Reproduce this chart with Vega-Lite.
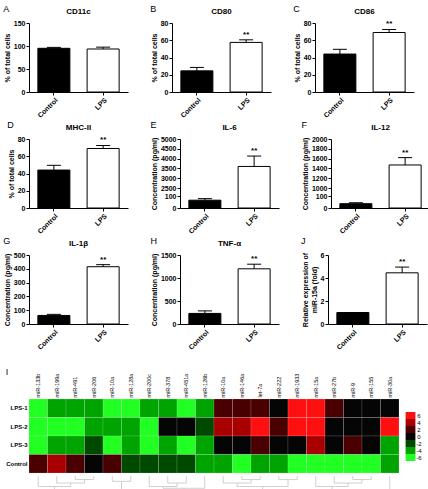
{
  "$schema": "https://vega.github.io/schema/vega-lite/v6.json",
  "padding": {"left": 3, "top": 5, "right": 3, "bottom": 3},
  "background": "white",
  "datasets": {
    "bars": [
      {"panel": "A", "group": "Control", "mean": 95, "err": 97, "star": false},
      {"panel": "A", "group": "LPS", "mean": 93.5, "err": 97.5, "star": false},
      {"panel": "B", "group": "Control", "mean": 24.5, "err": 28.5, "star": false},
      {"panel": "B", "group": "LPS", "mean": 57.5, "err": 60.5, "star": true},
      {"panel": "C", "group": "Control", "mean": 44, "err": 49.5, "star": false},
      {"panel": "C", "group": "LPS", "mean": 69, "err": 72.5, "star": true},
      {"panel": "D", "group": "Control", "mean": 44, "err": 49.5, "star": false},
      {"panel": "D", "group": "LPS", "mean": 69, "err": 72.5, "star": true},
      {"panel": "E", "group": "Control", "mean": 65, "err": 78, "star": false},
      {"panel": "E", "group": "LPS", "mean": 3600, "err": 4130, "star": true},
      {"panel": "F", "group": "Control", "mean": 36, "err": 44, "star": false},
      {"panel": "F", "group": "LPS", "mean": 1470, "err": 1620, "star": true},
      {"panel": "G", "group": "Control", "mean": 62, "err": 70, "star": false},
      {"panel": "G", "group": "LPS", "mean": 415, "err": 430, "star": true},
      {"panel": "H", "group": "Control", "mean": 230, "err": 285, "star": false},
      {"panel": "H", "group": "LPS", "mean": 1200, "err": 1300, "star": true},
      {"panel": "J", "group": "Control", "mean": 1, "err": 1, "star": false},
      {"panel": "J", "group": "LPS", "mean": 4.45, "err": 4.95, "star": true}
    ],
    "heat": [
      {"row": "LPS-1", "col": 1, "v": -6}, {"row": "LPS-1", "col": 2, "v": -4}, {"row": "LPS-1", "col": 3, "v": -4}, {"row": "LPS-1", "col": 4, "v": -4}, {"row": "LPS-1", "col": 5, "v": -6},
      {"row": "LPS-1", "col": 6, "v": -6}, {"row": "LPS-1", "col": 7, "v": -4}, {"row": "LPS-1", "col": 8, "v": -4}, {"row": "LPS-1", "col": 9, "v": -6}, {"row": "LPS-1", "col": 10, "v": -4},
      {"row": "LPS-1", "col": 11, "v": 2}, {"row": "LPS-1", "col": 12, "v": 2}, {"row": "LPS-1", "col": 13, "v": 2}, {"row": "LPS-1", "col": 14, "v": 0}, {"row": "LPS-1", "col": 15, "v": 6},
      {"row": "LPS-1", "col": 16, "v": 6}, {"row": "LPS-1", "col": 17, "v": 2}, {"row": "LPS-1", "col": 18, "v": 0}, {"row": "LPS-1", "col": 19, "v": 0}, {"row": "LPS-1", "col": 20, "v": 0},
      {"row": "LPS-2", "col": 1, "v": -6}, {"row": "LPS-2", "col": 2, "v": -6}, {"row": "LPS-2", "col": 3, "v": -6}, {"row": "LPS-2", "col": 4, "v": -4}, {"row": "LPS-2", "col": 5, "v": -4},
      {"row": "LPS-2", "col": 6, "v": -4}, {"row": "LPS-2", "col": 7, "v": -6}, {"row": "LPS-2", "col": 8, "v": 0}, {"row": "LPS-2", "col": 9, "v": 0}, {"row": "LPS-2", "col": 10, "v": -2},
      {"row": "LPS-2", "col": 11, "v": 4}, {"row": "LPS-2", "col": 12, "v": 4}, {"row": "LPS-2", "col": 13, "v": 6}, {"row": "LPS-2", "col": 14, "v": 2}, {"row": "LPS-2", "col": 15, "v": 6},
      {"row": "LPS-2", "col": 16, "v": 6}, {"row": "LPS-2", "col": 17, "v": 0}, {"row": "LPS-2", "col": 18, "v": 0}, {"row": "LPS-2", "col": 19, "v": 0}, {"row": "LPS-2", "col": 20, "v": 6},
      {"row": "LPS-3", "col": 1, "v": -6}, {"row": "LPS-3", "col": 2, "v": -4}, {"row": "LPS-3", "col": 3, "v": -4}, {"row": "LPS-3", "col": 4, "v": -2}, {"row": "LPS-3", "col": 5, "v": -6},
      {"row": "LPS-3", "col": 6, "v": -4}, {"row": "LPS-3", "col": 7, "v": -6}, {"row": "LPS-3", "col": 8, "v": -4}, {"row": "LPS-3", "col": 9, "v": -6}, {"row": "LPS-3", "col": 10, "v": -4},
      {"row": "LPS-3", "col": 11, "v": 0}, {"row": "LPS-3", "col": 12, "v": 0}, {"row": "LPS-3", "col": 13, "v": 2}, {"row": "LPS-3", "col": 14, "v": 0}, {"row": "LPS-3", "col": 15, "v": 0},
      {"row": "LPS-3", "col": 16, "v": 4}, {"row": "LPS-3", "col": 17, "v": 0}, {"row": "LPS-3", "col": 18, "v": 2}, {"row": "LPS-3", "col": 19, "v": 0}, {"row": "LPS-3", "col": 20, "v": -4},
      {"row": "Control", "col": 1, "v": 2}, {"row": "Control", "col": 2, "v": 4}, {"row": "Control", "col": 3, "v": 2}, {"row": "Control", "col": 4, "v": 0}, {"row": "Control", "col": 5, "v": 2},
      {"row": "Control", "col": 6, "v": -2}, {"row": "Control", "col": 7, "v": -2}, {"row": "Control", "col": 8, "v": -2}, {"row": "Control", "col": 9, "v": -2}, {"row": "Control", "col": 10, "v": -4},
      {"row": "Control", "col": 11, "v": -4}, {"row": "Control", "col": 12, "v": -6}, {"row": "Control", "col": 13, "v": -4}, {"row": "Control", "col": 14, "v": -4}, {"row": "Control", "col": 15, "v": -6},
      {"row": "Control", "col": 16, "v": -6}, {"row": "Control", "col": 17, "v": -6}, {"row": "Control", "col": 18, "v": -6}, {"row": "Control", "col": 19, "v": -6}, {"row": "Control", "col": 20, "v": -4}
    ],
    "dendro": [
      {"x": 2.5, "x2": 2.5, "y": 0, "y2": 1}, {"x": 3.5, "x2": 3.5, "y": 0, "y2": 1}, {"x": 2.5, "x2": 3.5, "y": 1, "y2": 1},
      {"x": 1.5, "x2": 1.5, "y": 0, "y2": 2}, {"x": 3.0, "x2": 3.0, "y": 1, "y2": 2}, {"x": 1.5, "x2": 3.0, "y": 2, "y2": 2},
      {"x": 0.5, "x2": 0.5, "y": 0, "y2": 3}, {"x": 2.25, "x2": 2.25, "y": 2, "y2": 3}, {"x": 0.5, "x2": 2.25, "y": 3, "y2": 3},
      {"x": 4.5, "x2": 4.5, "y": 0, "y2": 1.5}, {"x": 5.5, "x2": 5.5, "y": 0, "y2": 1.5}, {"x": 4.5, "x2": 5.5, "y": 1.5, "y2": 1.5},
      {"x": 1.375, "x2": 1.375, "y": 3, "y2": 4}, {"x": 5.0, "x2": 5.0, "y": 1.5, "y2": 4}, {"x": 1.375, "x2": 5.0, "y": 4, "y2": 4},
      {"x": 7.5, "x2": 7.5, "y": 0, "y2": 2}, {"x": 8.5, "x2": 8.5, "y": 0, "y2": 2}, {"x": 7.5, "x2": 8.5, "y": 2, "y2": 2},
      {"x": 6.5, "x2": 6.5, "y": 0, "y2": 3}, {"x": 8.0, "x2": 8.0, "y": 2, "y2": 3}, {"x": 6.5, "x2": 8.0, "y": 3, "y2": 3},
      {"x": 7.25, "x2": 7.25, "y": 3, "y2": 3.5}, {"x": 9.5, "x2": 9.5, "y": 0, "y2": 3.5}, {"x": 7.25, "x2": 9.5, "y": 3.5, "y2": 3.5},
      {"x": 3.19, "x2": 3.19, "y": 4, "y2": 5}, {"x": 8.38, "x2": 8.38, "y": 3.5, "y2": 5}, {"x": 3.19, "x2": 8.38, "y": 5, "y2": 5},
      {"x": 11.5, "x2": 11.5, "y": 0, "y2": 1}, {"x": 12.5, "x2": 12.5, "y": 0, "y2": 1}, {"x": 11.5, "x2": 12.5, "y": 1, "y2": 1},
      {"x": 10.5, "x2": 10.5, "y": 0, "y2": 2}, {"x": 12.0, "x2": 12.0, "y": 1, "y2": 2}, {"x": 10.5, "x2": 12.0, "y": 2, "y2": 2},
      {"x": 13.5, "x2": 13.5, "y": 0, "y2": 1}, {"x": 14.5, "x2": 14.5, "y": 0, "y2": 1}, {"x": 13.5, "x2": 14.5, "y": 1, "y2": 1},
      {"x": 11.25, "x2": 11.25, "y": 2, "y2": 3}, {"x": 14.0, "x2": 14.0, "y": 1, "y2": 3}, {"x": 11.25, "x2": 14.0, "y": 3, "y2": 3},
      {"x": 17.5, "x2": 17.5, "y": 0, "y2": 1}, {"x": 18.5, "x2": 18.5, "y": 0, "y2": 1}, {"x": 17.5, "x2": 18.5, "y": 1, "y2": 1},
      {"x": 16.5, "x2": 16.5, "y": 0, "y2": 2}, {"x": 18.0, "x2": 18.0, "y": 1, "y2": 2}, {"x": 16.5, "x2": 18.0, "y": 2, "y2": 2},
      {"x": 15.5, "x2": 15.5, "y": 0, "y2": 3}, {"x": 17.25, "x2": 17.25, "y": 2, "y2": 3}, {"x": 15.5, "x2": 17.25, "y": 3, "y2": 3},
      {"x": 12.63, "x2": 12.63, "y": 3, "y2": 4}, {"x": 16.38, "x2": 16.38, "y": 3, "y2": 4}, {"x": 12.63, "x2": 16.38, "y": 4, "y2": 4},
      {"x": 14.5, "x2": 14.5, "y": 4, "y2": 5}, {"x": 19.5, "x2": 19.5, "y": 0, "y2": 5}, {"x": 14.5, "x2": 19.5, "y": 5, "y2": 5},
      {"x": 5.78, "x2": 5.78, "y": 5, "y2": 6}, {"x": 17.0, "x2": 17.0, "y": 5, "y2": 6}, {"x": 5.78, "x2": 17.0, "y": 6, "y2": 6}
    ]
  },
  "spacing": 17,
  "vconcat": [
    {
      "spacing": 2,
      "vconcat": [
        {
          "spacing": 22,
          "hconcat": [
            {
              "title": {"text": "A", "anchor": "start", "fontSize": 9, "fontWeight": "normal", "offset": -6},
              "vconcat": [{
                "title": "CD11c", "width": 99, "height": 69,
                "data": {"name": "bars"}, "transform": [{"filter": "datum.panel === 'A'"}],
                "encoding": {"x": {"field": "group", "type": "nominal", "sort": ["Control", "LPS"], "scale": {"paddingInner": 0.35, "paddingOuter": 0.18}, "axis": {"title": null, "labelAngle": -45}}},
                "layer": [
                  {"mark": {"type": "bar", "stroke": "#000", "strokeWidth": 1}, "encoding": {"y": {"field": "mean", "type": "quantitative", "scale": {"domain": [0, 150], "nice": false}, "axis": {"values": [0, 50, 100, 150], "title": "% of total cells"}}, "fill": {"condition": {"test": "datum.group === 'Control'", "value": "#000"}, "value": "#fff"}}},
                  {"mark": {"type": "rule", "color": "#000"}, "encoding": {"y": {"field": "mean", "type": "quantitative", "scale": {"domain": [0, 150], "nice": false}, "axis": {"values": [0, 50, 100, 150], "title": "% of total cells"}}, "y2": {"field": "err"}}},
                  {"mark": {"type": "tick", "orient": "horizontal", "size": 14, "thickness": 1, "color": "#000", "opacity": 1}, "encoding": {"y": {"field": "err", "type": "quantitative", "scale": {"domain": [0, 150], "nice": false}, "axis": {"values": [0, 50, 100, 150], "title": "% of total cells"}}}}
                ]
              }]
            },
            {
              "title": {"text": "B", "anchor": "start", "fontSize": 9, "fontWeight": "normal", "offset": -6},
              "vconcat": [{
                "title": "CD80", "width": 99, "height": 69,
                "data": {"name": "bars"}, "transform": [{"filter": "datum.panel === 'B'"}],
                "encoding": {"x": {"field": "group", "type": "nominal", "sort": ["Control", "LPS"], "scale": {"paddingInner": 0.35, "paddingOuter": 0.18}, "axis": {"title": null, "labelAngle": -45}}},
                "layer": [
                  {"mark": {"type": "bar", "stroke": "#000", "strokeWidth": 1}, "encoding": {"y": {"field": "mean", "type": "quantitative", "scale": {"domain": [0, 80], "nice": false}, "axis": {"values": [0, 20, 40, 60, 80], "title": "% of total cells"}}, "fill": {"condition": {"test": "datum.group === 'Control'", "value": "#000"}, "value": "#fff"}}},
                  {"mark": {"type": "rule", "color": "#000"}, "encoding": {"y": {"field": "mean", "type": "quantitative", "scale": {"domain": [0, 80], "nice": false}, "axis": {"values": [0, 20, 40, 60, 80], "title": "% of total cells"}}, "y2": {"field": "err"}}},
                  {"mark": {"type": "tick", "orient": "horizontal", "size": 14, "thickness": 1, "color": "#000", "opacity": 1}, "encoding": {"y": {"field": "err", "type": "quantitative", "scale": {"domain": [0, 80], "nice": false}, "axis": {"values": [0, 20, 40, 60, 80], "title": "% of total cells"}}}},
                  {"transform": [{"filter": "datum.star"}], "mark": {"type": "text", "text": "**", "baseline": "bottom", "dy": -1, "fontSize": 8, "fontWeight": "bold"}, "encoding": {"y": {"field": "err", "type": "quantitative", "scale": {"domain": [0, 80], "nice": false}, "axis": {"values": [0, 20, 40, 60, 80], "title": "% of total cells"}}}}
                ]
              }]
            },
            {
              "title": {"text": "C", "anchor": "start", "fontSize": 9, "fontWeight": "normal", "offset": -6},
              "vconcat": [{
                "title": "CD86", "width": 99, "height": 69,
                "data": {"name": "bars"}, "transform": [{"filter": "datum.panel === 'C'"}],
                "encoding": {"x": {"field": "group", "type": "nominal", "sort": ["Control", "LPS"], "scale": {"paddingInner": 0.35, "paddingOuter": 0.18}, "axis": {"title": null, "labelAngle": -45}}},
                "layer": [
                  {"mark": {"type": "bar", "stroke": "#000", "strokeWidth": 1}, "encoding": {"y": {"field": "mean", "type": "quantitative", "scale": {"domain": [0, 80], "nice": false}, "axis": {"values": [0, 20, 40, 60, 80], "title": "% of total cells"}}, "fill": {"condition": {"test": "datum.group === 'Control'", "value": "#000"}, "value": "#fff"}}},
                  {"mark": {"type": "rule", "color": "#000"}, "encoding": {"y": {"field": "mean", "type": "quantitative", "scale": {"domain": [0, 80], "nice": false}, "axis": {"values": [0, 20, 40, 60, 80], "title": "% of total cells"}}, "y2": {"field": "err"}}},
                  {"mark": {"type": "tick", "orient": "horizontal", "size": 14, "thickness": 1, "color": "#000", "opacity": 1}, "encoding": {"y": {"field": "err", "type": "quantitative", "scale": {"domain": [0, 80], "nice": false}, "axis": {"values": [0, 20, 40, 60, 80], "title": "% of total cells"}}}},
                  {"transform": [{"filter": "datum.star"}], "mark": {"type": "text", "text": "**", "baseline": "bottom", "dy": -1, "fontSize": 8, "fontWeight": "bold"}, "encoding": {"y": {"field": "err", "type": "quantitative", "scale": {"domain": [0, 80], "nice": false}, "axis": {"values": [0, 20, 40, 60, 80], "title": "% of total cells"}}}}
                ]
              }]
            }
          ]
        },
        {
          "spacing": 22,
          "hconcat": [
            {
              "title": {"text": "D", "anchor": "start", "fontSize": 9, "fontWeight": "normal", "offset": -6},
              "vconcat": [{
                "title": "MHC-II", "width": 99, "height": 69,
                "data": {"name": "bars"}, "transform": [{"filter": "datum.panel === 'D'"}],
                "encoding": {"x": {"field": "group", "type": "nominal", "sort": ["Control", "LPS"], "scale": {"paddingInner": 0.35, "paddingOuter": 0.18}, "axis": {"title": null, "labelAngle": -45}}},
                "layer": [
                  {"mark": {"type": "bar", "stroke": "#000", "strokeWidth": 1}, "encoding": {"y": {"field": "mean", "type": "quantitative", "scale": {"domain": [0, 80], "nice": false}, "axis": {"values": [0, 20, 40, 60, 80], "title": "% of total cells"}}, "fill": {"condition": {"test": "datum.group === 'Control'", "value": "#000"}, "value": "#fff"}}},
                  {"mark": {"type": "rule", "color": "#000"}, "encoding": {"y": {"field": "mean", "type": "quantitative", "scale": {"domain": [0, 80], "nice": false}, "axis": {"values": [0, 20, 40, 60, 80], "title": "% of total cells"}}, "y2": {"field": "err"}}},
                  {"mark": {"type": "tick", "orient": "horizontal", "size": 14, "thickness": 1, "color": "#000", "opacity": 1}, "encoding": {"y": {"field": "err", "type": "quantitative", "scale": {"domain": [0, 80], "nice": false}, "axis": {"values": [0, 20, 40, 60, 80], "title": "% of total cells"}}}},
                  {"transform": [{"filter": "datum.star"}], "mark": {"type": "text", "text": "**", "baseline": "bottom", "dy": -1, "fontSize": 8, "fontWeight": "bold"}, "encoding": {"y": {"field": "err", "type": "quantitative", "scale": {"domain": [0, 80], "nice": false}, "axis": {"values": [0, 20, 40, 60, 80], "title": "% of total cells"}}}}
                ]
              }]
            },
            {
              "title": {"text": "E", "anchor": "start", "fontSize": 9, "fontWeight": "normal", "offset": -6},
              "vconcat": [{
                "title": "IL-6", "width": 99, "height": 69,
                "data": {"name": "bars"}, "transform": [{"filter": "datum.panel === 'E'"}],
                "encoding": {"x": {"field": "group", "type": "nominal", "sort": ["Control", "LPS"], "scale": {"paddingInner": 0.35, "paddingOuter": 0.18}, "axis": {"title": null, "labelAngle": -45}}},
                "layer": [
                  {"mark": {"type": "bar", "stroke": "#000", "strokeWidth": 1}, "encoding": {"y": {"field": "mean", "type": "quantitative", "scale": {"domain": [0, 100, 2500, 5000], "range": [69, 57, 49, 0], "nice": false, "zero": false}, "axis": {"values": [0, 100, 2500, 3000, 3500, 4000, 4500, 5000], "format": "d", "title": "Concentration  (pg/ml)"}}, "fill": {"condition": {"test": "datum.group === 'Control'", "value": "#000"}, "value": "#fff"}}},
                  {"mark": {"type": "rule", "color": "#000"}, "encoding": {"y": {"field": "mean", "type": "quantitative", "scale": {"domain": [0, 100, 2500, 5000], "range": [69, 57, 49, 0], "nice": false, "zero": false}, "axis": {"values": [0, 100, 2500, 3000, 3500, 4000, 4500, 5000], "format": "d", "title": "Concentration  (pg/ml)"}}, "y2": {"field": "err"}}},
                  {"mark": {"type": "tick", "orient": "horizontal", "size": 14, "thickness": 1, "color": "#000", "opacity": 1}, "encoding": {"y": {"field": "err", "type": "quantitative", "scale": {"domain": [0, 100, 2500, 5000], "range": [69, 57, 49, 0], "nice": false, "zero": false}, "axis": {"values": [0, 100, 2500, 3000, 3500, 4000, 4500, 5000], "format": "d", "title": "Concentration  (pg/ml)"}}}},
                  {"transform": [{"filter": "datum.star"}], "mark": {"type": "text", "text": "**", "baseline": "bottom", "dy": -1, "fontSize": 8, "fontWeight": "bold"}, "encoding": {"y": {"field": "err", "type": "quantitative", "scale": {"domain": [0, 100, 2500, 5000], "range": [69, 57, 49, 0], "nice": false, "zero": false}, "axis": {"values": [0, 100, 2500, 3000, 3500, 4000, 4500, 5000], "format": "d", "title": "Concentration  (pg/ml)"}}}}
                ]
              }]
            },
            {
              "title": {"text": "F", "anchor": "start", "fontSize": 9, "fontWeight": "normal", "offset": -6},
              "vconcat": [{
                "title": "IL-12", "width": 99, "height": 69,
                "data": {"name": "bars"}, "transform": [{"filter": "datum.panel === 'F'"}],
                "encoding": {"x": {"field": "group", "type": "nominal", "sort": ["Control", "LPS"], "scale": {"paddingInner": 0.35, "paddingOuter": 0.18}, "axis": {"title": null, "labelAngle": -45}}},
                "layer": [
                  {"mark": {"type": "bar", "stroke": "#000", "strokeWidth": 1}, "encoding": {"y": {"field": "mean", "type": "quantitative", "scale": {"domain": [0, 100, 1000, 2000], "range": [69, 57, 49, 0], "nice": false, "zero": false}, "axis": {"values": [0, 100, 1000, 1200, 1400, 1600, 1800, 2000], "format": "d", "title": "Concentration  (pg/ml)"}}, "fill": {"condition": {"test": "datum.group === 'Control'", "value": "#000"}, "value": "#fff"}}},
                  {"mark": {"type": "rule", "color": "#000"}, "encoding": {"y": {"field": "mean", "type": "quantitative", "scale": {"domain": [0, 100, 1000, 2000], "range": [69, 57, 49, 0], "nice": false, "zero": false}, "axis": {"values": [0, 100, 1000, 1200, 1400, 1600, 1800, 2000], "format": "d", "title": "Concentration  (pg/ml)"}}, "y2": {"field": "err"}}},
                  {"mark": {"type": "tick", "orient": "horizontal", "size": 14, "thickness": 1, "color": "#000", "opacity": 1}, "encoding": {"y": {"field": "err", "type": "quantitative", "scale": {"domain": [0, 100, 1000, 2000], "range": [69, 57, 49, 0], "nice": false, "zero": false}, "axis": {"values": [0, 100, 1000, 1200, 1400, 1600, 1800, 2000], "format": "d", "title": "Concentration  (pg/ml)"}}}},
                  {"transform": [{"filter": "datum.star"}], "mark": {"type": "text", "text": "**", "baseline": "bottom", "dy": -1, "fontSize": 8, "fontWeight": "bold"}, "encoding": {"y": {"field": "err", "type": "quantitative", "scale": {"domain": [0, 100, 1000, 2000], "range": [69, 57, 49, 0], "nice": false, "zero": false}, "axis": {"values": [0, 100, 1000, 1200, 1400, 1600, 1800, 2000], "format": "d", "title": "Concentration  (pg/ml)"}}}}
                ]
              }]
            }
          ]
        },
        {
          "spacing": 22,
          "hconcat": [
            {
              "title": {"text": "G", "anchor": "start", "fontSize": 9, "fontWeight": "normal", "offset": -6},
              "vconcat": [{
                "title": "IL-1β", "width": 99, "height": 69,
                "data": {"name": "bars"}, "transform": [{"filter": "datum.panel === 'G'"}],
                "encoding": {"x": {"field": "group", "type": "nominal", "sort": ["Control", "LPS"], "scale": {"paddingInner": 0.35, "paddingOuter": 0.18}, "axis": {"title": null, "labelAngle": -45}}},
                "layer": [
                  {"mark": {"type": "bar", "stroke": "#000", "strokeWidth": 1}, "encoding": {"y": {"field": "mean", "type": "quantitative", "scale": {"domain": [0, 500], "nice": false}, "axis": {"values": [0, 100, 200, 300, 400, 500], "title": "Concentration  (pg/ml)"}}, "fill": {"condition": {"test": "datum.group === 'Control'", "value": "#000"}, "value": "#fff"}}},
                  {"mark": {"type": "rule", "color": "#000"}, "encoding": {"y": {"field": "mean", "type": "quantitative", "scale": {"domain": [0, 500], "nice": false}, "axis": {"values": [0, 100, 200, 300, 400, 500], "title": "Concentration  (pg/ml)"}}, "y2": {"field": "err"}}},
                  {"mark": {"type": "tick", "orient": "horizontal", "size": 14, "thickness": 1, "color": "#000", "opacity": 1}, "encoding": {"y": {"field": "err", "type": "quantitative", "scale": {"domain": [0, 500], "nice": false}, "axis": {"values": [0, 100, 200, 300, 400, 500], "title": "Concentration  (pg/ml)"}}}},
                  {"transform": [{"filter": "datum.star"}], "mark": {"type": "text", "text": "**", "baseline": "bottom", "dy": -1, "fontSize": 8, "fontWeight": "bold"}, "encoding": {"y": {"field": "err", "type": "quantitative", "scale": {"domain": [0, 500], "nice": false}, "axis": {"values": [0, 100, 200, 300, 400, 500], "title": "Concentration  (pg/ml)"}}}}
                ]
              }]
            },
            {
              "title": {"text": "H", "anchor": "start", "fontSize": 9, "fontWeight": "normal", "offset": -6},
              "vconcat": [{
                "title": "TNF-α", "width": 99, "height": 69,
                "data": {"name": "bars"}, "transform": [{"filter": "datum.panel === 'H'"}],
                "encoding": {"x": {"field": "group", "type": "nominal", "sort": ["Control", "LPS"], "scale": {"paddingInner": 0.35, "paddingOuter": 0.18}, "axis": {"title": null, "labelAngle": -45}}},
                "layer": [
                  {"mark": {"type": "bar", "stroke": "#000", "strokeWidth": 1}, "encoding": {"y": {"field": "mean", "type": "quantitative", "scale": {"domain": [0, 1500], "nice": false}, "axis": {"values": [0, 500, 1000, 1500], "format": "d", "title": "Concentration  (pg/ml)"}}, "fill": {"condition": {"test": "datum.group === 'Control'", "value": "#000"}, "value": "#fff"}}},
                  {"mark": {"type": "rule", "color": "#000"}, "encoding": {"y": {"field": "mean", "type": "quantitative", "scale": {"domain": [0, 1500], "nice": false}, "axis": {"values": [0, 500, 1000, 1500], "format": "d", "title": "Concentration  (pg/ml)"}}, "y2": {"field": "err"}}},
                  {"mark": {"type": "tick", "orient": "horizontal", "size": 14, "thickness": 1, "color": "#000", "opacity": 1}, "encoding": {"y": {"field": "err", "type": "quantitative", "scale": {"domain": [0, 1500], "nice": false}, "axis": {"values": [0, 500, 1000, 1500], "format": "d", "title": "Concentration  (pg/ml)"}}}},
                  {"transform": [{"filter": "datum.star"}], "mark": {"type": "text", "text": "**", "baseline": "bottom", "dy": -1, "fontSize": 8, "fontWeight": "bold"}, "encoding": {"y": {"field": "err", "type": "quantitative", "scale": {"domain": [0, 1500], "nice": false}, "axis": {"values": [0, 500, 1000, 1500], "format": "d", "title": "Concentration  (pg/ml)"}}}}
                ]
              }]
            },
            {
              "title": {"text": "J", "anchor": "start", "fontSize": 9, "fontWeight": "normal", "offset": -6},
              "vconcat": [{
                "title": " ", "width": 99, "height": 69,
                "data": {"name": "bars"}, "transform": [{"filter": "datum.panel === 'J'"}],
                "encoding": {"x": {"field": "group", "type": "nominal", "sort": ["Control", "LPS"], "scale": {"paddingInner": 0.35, "paddingOuter": 0.18}, "axis": {"title": null, "labelAngle": -45}}},
                "layer": [
                  {"mark": {"type": "bar", "stroke": "#000", "strokeWidth": 1}, "encoding": {"y": {"field": "mean", "type": "quantitative", "scale": {"domain": [0, 6], "nice": false}, "axis": {"values": [0, 2, 4, 6], "title": ["Relative expression of", "miR-15a (fold)"]}}, "fill": {"condition": {"test": "datum.group === 'Control'", "value": "#000"}, "value": "#fff"}}},
                  {"transform": [{"filter": "datum.star"}], "mark": {"type": "rule", "color": "#000"}, "encoding": {"y": {"field": "mean", "type": "quantitative", "scale": {"domain": [0, 6], "nice": false}, "axis": {"values": [0, 2, 4, 6], "title": ["Relative expression of", "miR-15a (fold)"]}}, "y2": {"field": "err"}}},
                  {"transform": [{"filter": "datum.star"}], "mark": {"type": "tick", "orient": "horizontal", "size": 14, "thickness": 1, "color": "#000", "opacity": 1}, "encoding": {"y": {"field": "err", "type": "quantitative", "scale": {"domain": [0, 6], "nice": false}, "axis": {"values": [0, 2, 4, 6], "title": ["Relative expression of", "miR-15a (fold)"]}}}},
                  {"transform": [{"filter": "datum.star"}], "mark": {"type": "text", "text": "**", "baseline": "bottom", "dy": -1, "fontSize": 8, "fontWeight": "bold"}, "encoding": {"y": {"field": "err", "type": "quantitative", "scale": {"domain": [0, 6], "nice": false}, "axis": {"values": [0, 2, 4, 6], "title": ["Relative expression of", "miR-15a (fold)"]}}}}
                ]
              }]
            }
          ]
        }
      ]
    },
    {
      "title": {"text": "I", "anchor": "start", "fontSize": 9, "fontWeight": "normal", "offset": -4},
      "spacing": 1,
      "vconcat": [
        {
          "width": 370, "height": 74,
          "data": {"name": "heat"},
          "mark": {"type": "rect", "stroke": "#ffffff", "strokeWidth": 0.4, "strokeOpacity": 0.35},
          "encoding": {
            "x": {"field": "col", "type": "ordinal", "scale": {"paddingInner": 0, "paddingOuter": 0}, "axis": {"orient": "top", "title": null, "labelAngle": -90, "ticks": false, "domain": false, "labelFontSize": 5.5, "labelFontWeight": "normal", "labelPadding": 2, "labelExpr": "['miR-133b','miR-199a','miR-491','miR-206','miR-10a','miR-128a','miR-200c','miR-378','miR-451a','miR-126b','miR-10a','miR-146a','let-7a','miR-222','miR-1933','miR-15a','miR-27b','miR-9','miR-155','miR-30a'][datum.value - 1]"}},
            "y": {"field": "row", "type": "nominal", "sort": ["LPS-1", "LPS-2", "LPS-3", "Control"], "axis": {"title": null, "ticks": false, "domain": false, "labelFontSize": 6, "labelPadding": 2}},
            "color": {"field": "v", "type": "ordinal", "scale": {"domain": [6, 4, 2, 0, -2, -4, -6], "range": ["#ff1010", "#a80000", "#4a0000", "#050505", "#004a00", "#00a400", "#22ff22"]}, "legend": {"title": null, "orient": "none", "legendX": 378, "legendY": 389, "symbolType": "M-1.4,-1H1.4V1H-1.4Z", "symbolSize": 49, "symbolStrokeWidth": 0, "symbolOpacity": 1, "rowPadding": 0, "labelFontSize": 6, "labelOffset": 5, "labelAngle": 90, "labelAlign": "center", "labelBaseline": "middle", "padding": 0}}
          }
        },
        {
          "width": 370, "height": 22,
          "data": {"name": "dendro"},
          "mark": {"type": "rule", "color": "#c4c4c4", "strokeWidth": 0.8},
          "encoding": {
            "x": {"field": "x", "type": "quantitative", "scale": {"domain": [0, 20], "nice": false, "zero": false}, "axis": null},
            "x2": {"field": "x2"},
            "y": {"field": "y", "type": "quantitative", "scale": {"domain": [-0.3, 6], "reverse": true, "nice": false, "zero": false}, "axis": null},
            "y2": {"field": "y2"}
          }
        }
      ]
    }
  ],
  "config": {
    "font": "Liberation Sans",
    "view": {"stroke": null},
    "axis": {"domainColor": "#000", "tickColor": "#000", "labelColor": "#000", "titleColor": "#000", "labelFontSize": 7, "titleFontSize": 7, "labelFontWeight": "bold", "titleFontWeight": "bold", "grid": false, "tickSize": 3, "labelPadding": 1, "titlePadding": 3, "labelOverlap": false},
    "title": {"fontSize": 8, "fontWeight": "bold", "offset": 3, "color": "#000"},
    "legend": {"labelColor": "#000"}
  }
}
